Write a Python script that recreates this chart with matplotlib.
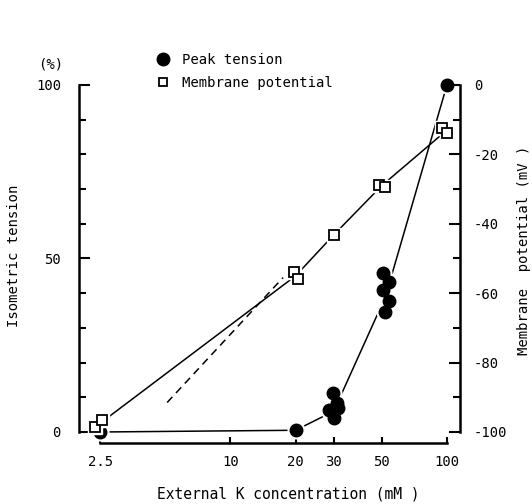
import numpy as np
import matplotlib
matplotlib.use('Agg')
import matplotlib.pyplot as plt
from matplotlib.lines import Line2D
from matplotlib.ticker import FixedLocator, NullLocator

plt.rcParams['font.family'] = 'DejaVu Sans Mono'
plt.rcParams['font.size'] = 10

# Peak tension (% of max), individual points
tension_k = [2.5, 20, 29.9, 30.9, 28.4, 31.5, 30.2, 50.9, 53.8, 50.9, 53.8, 52.0, 100]
tension_pct = [0, 0.6, 11.2, 8.4, 6.3, 6.9, 4.0, 45.8, 43.2, 40.9, 37.8, 34.6, 100]
# hand-drawn curve through the tension points
tension_curve_k = [2.5, 20, 30, 52, 100]
tension_curve = [0, 0.5, 6, 39, 100]

# Membrane potential (mV)
mp_k = [2.37, 2.56, 19.7, 20.6, 30.2, 48.6, 52.0, 94.7, 100]
mp_mv = [-98.6, -96.5, -53.9, -55.9, -43.2, -28.8, -29.4, -12.4, -13.8]
mp_curve_k = [2.5, 20, 30, 50, 100]
mp_curve = [-97.5, -55, -43.2, -29, -13]
# dashed reference line
dash_k = [5.1, 17.5]
dash_mv = [-91.5, -55.5]

xticks = [2.5, 10, 20, 30, 50, 100]
xticklabels = ['2.5', '10', '20', '30', '50', '100']

W, H = 532, 504
fig = plt.figure(figsize=(W / 100, H / 100), dpi=100)
ax = fig.add_axes([79 / W, 1 - 443 / H, (460 - 79) / W, (443 - 82) / H])
ax.set_xscale('log')
ax.set_xlim(1.997, 114.9)
ax.set_ylim(-3.17, 100.86)
ax2 = ax.twinx()
ax2.set_ylim(-103.17, 0.86)

for a in (ax, ax2):
    a.patch.set_visible(False)
    for s in a.spines.values():
        s.set_linewidth(1.8)
    a.spines['top'].set_visible(False)

ax.spines['right'].set_visible(False)
ax.spines['left'].set_bounds(0, 100)
ax.spines['bottom'].set_bounds(2.5, 100)
ax2.spines['left'].set_visible(False)
ax2.spines['bottom'].set_visible(False)
ax2.spines['right'].set_bounds(-100, 0)

# tension curve and points
ax.plot(tension_curve_k, tension_curve, color='black', lw=1.1, zorder=2, clip_on=False)
ax.plot(tension_k, tension_pct, 'o', ms=12, color='white', zorder=3, clip_on=False)
ax.plot(tension_k, tension_pct, 'o', ms=9, color='black', zorder=4, clip_on=False)

# membrane potential curve and points
ax2.plot(mp_curve_k, mp_curve, color='black', lw=1.1, zorder=2, clip_on=False)
ax2.plot(dash_k, dash_mv, color='black', lw=1.1, ls=(0, (5, 3.5)), zorder=2)
ax2.plot(mp_k, mp_mv, 's', ms=10, color='white', zorder=3, clip_on=False)
ax2.plot(mp_k, mp_mv, 's', ms=7, mfc='white', mec='black', mew=1.3, zorder=4, clip_on=False)

# x axis
ax.xaxis.set_major_locator(FixedLocator(xticks))
ax.set_xticklabels(xticklabels)
ax.xaxis.set_minor_locator(NullLocator())
ax.tick_params(axis='x', direction='in', length=4, width=1.5, pad=9, labelsize=10)

# left axis
ax.set_yticks([0, 50, 100])
ax.set_yticks(np.arange(10, 100, 10), minor=True)
ax.tick_params(axis='y', which='major', direction='in', length=8, width=1.5, pad=13, labelsize=10)
ax.tick_params(axis='y', which='minor', direction='in', length=5, width=1.5)

# right axis
ax2.set_yticks([0, -20, -40, -60, -80, -100])
ax2.set_yticklabels(['0', '-20', '-40', '-60', '-80', '-100'])
ax2.set_yticks(np.arange(-90, 0, 20), minor=True)
ax2.tick_params(axis='y', which='major', direction='in', length=8, width=1.5, pad=10, labelsize=10)
ax2.tick_params(axis='y', which='minor', direction='in', length=5, width=1.5)

fig.text(288 / W, 1 - 494 / H, 'External K concentration (mM )', ha='center', va='center', fontsize=10.5)
fig.text(14 / W, 1 - 256 / H, 'Isometric tension', ha='center', va='center', rotation=90, fontsize=10)
fig.text(524 / W, 1 - 250 / H, 'Membrane  potential (mV )', ha='center', va='center', rotation=90, fontsize=10)
fig.text(51 / W, 1 - 65 / H, '(%)', ha='center', va='center', fontsize=10)

handles = [
    Line2D([], [], marker='o', ls='none', color='black', ms=9),
    Line2D([], [], marker='s', ls='none', mfc='white', mec='black', mew=1.3, ms=6),
]
fig.legend(handles, ['Peak tension', 'Membrane potential'], loc='upper left',
           bbox_to_anchor=(156 / W, 1 - 53 / H), frameon=False, handlelength=1.0,
           handletextpad=0.85, labelspacing=0.65, borderaxespad=0, borderpad=0,
           fontsize=10)

fig.savefig('out.png', dpi=100)
